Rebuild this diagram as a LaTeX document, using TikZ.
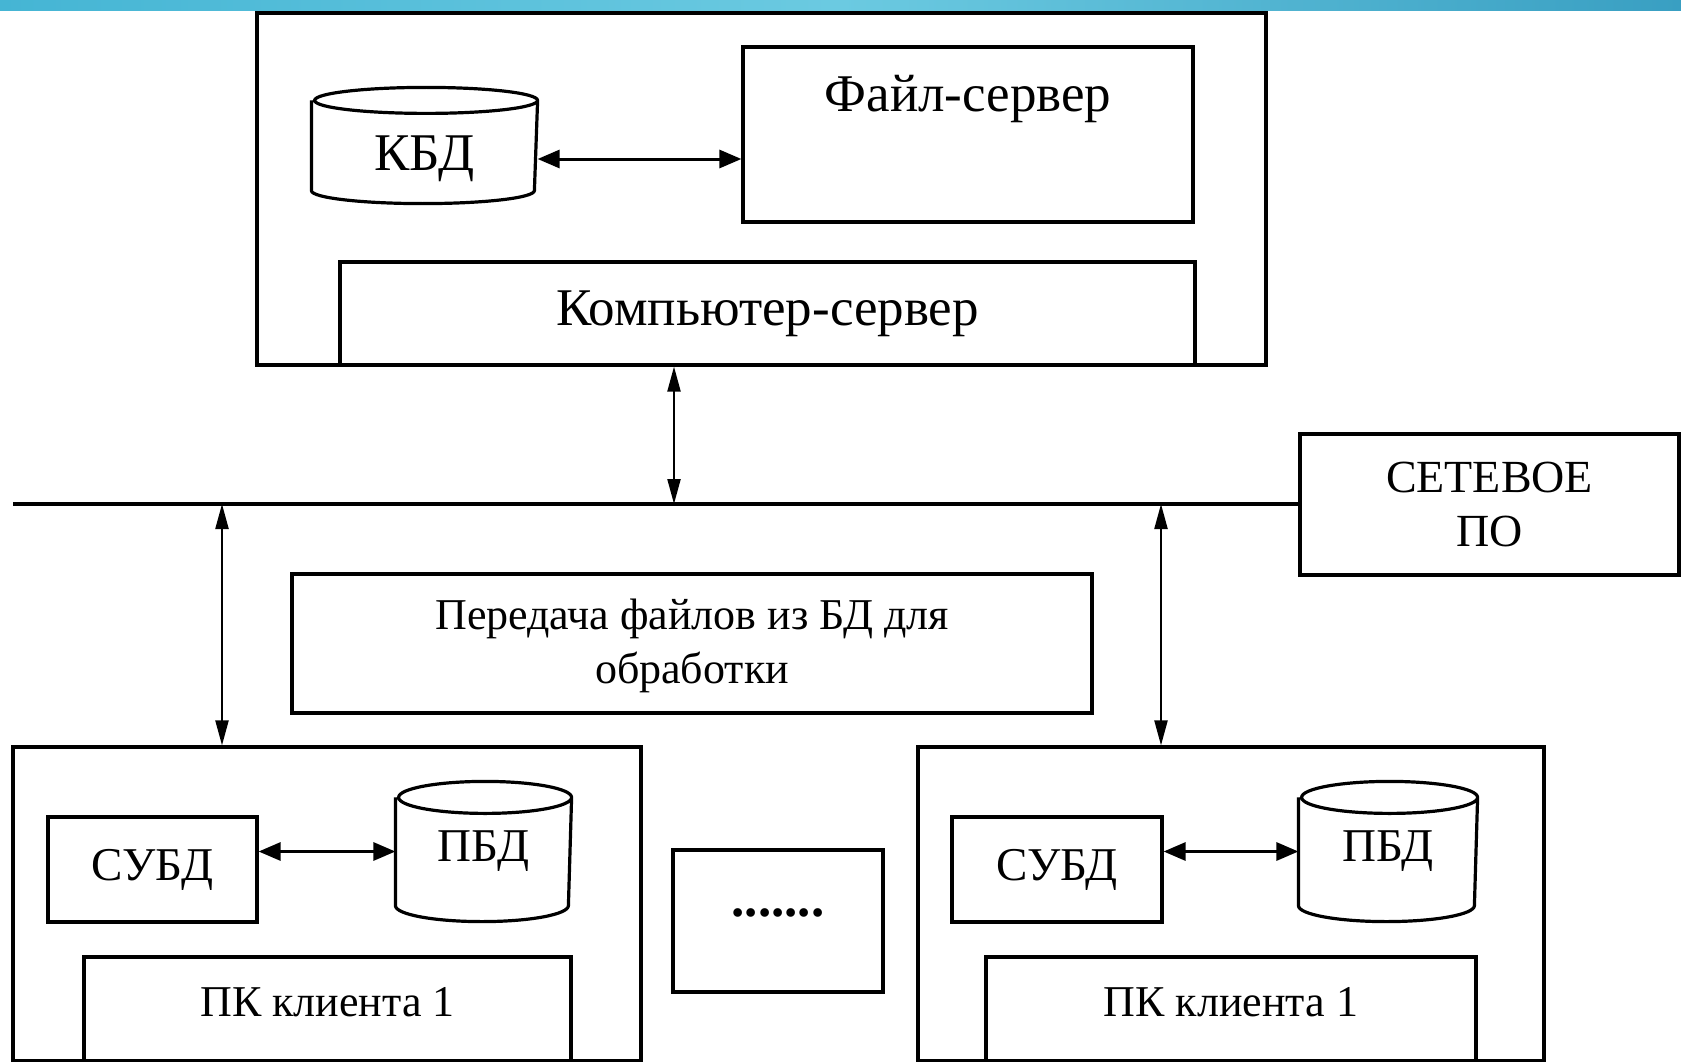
\documentclass[tikz,border=0pt]{standalone}
\usepackage{fontspec}
\setmainfont{Liberation Serif}
\usetikzlibrary{arrows.meta}
\definecolor{stripL}{HTML}{45B5D4}
\definecolor{stripM}{HTML}{6BCAE1}
\definecolor{stripR}{HTML}{399FC2}

\begin{document}
\begin{tikzpicture}[x=1pt,y=1pt,
  box/.style={draw, line width=3.2pt, inner sep=0pt},
  big/.style={inner sep=0pt, font=\fontsize{53}{60}\selectfont},
  mid/.style={inner sep=0pt, font=\fontsize{47}{54}\selectfont},
  small/.style={inner sep=0pt, align=center, font=\fontsize{44}{54}\selectfont},
  biarrow/.style={line width=3pt, {Triangle[length=22pt,width=18pt]}-{Triangle[length=22pt,width=18pt]}},
  vbiarrow/.style={line width=2.2pt, {Triangle[length=25pt,width=13pt]}-{Triangle[length=25pt,width=13pt]}},
  netline/.style={line width=3.2pt},
]
\useasboundingbox (0,0) rectangle (1681,-1062);

% title strip
\shade[left color=stripL, right color=stripR, middle color=stripM]
  (0,0) rectangle (1681,-11);

% cylinder outline drawn round an invisible node
\newcommand\drumshape[3]{% node, width, ellipse radius
  \draw[line width=3.2pt]
    ([yshift=-#3pt]#1.north west) -- ([yshift=#3pt]#1.south west)
    arc[start angle=180, end angle=360, x radius=#2pt/2, y radius=#3pt]
    -- ([yshift=-#3pt]#1.north east)
    arc[start angle=0, end angle=360, x radius=#2pt/2, y radius=#3pt];}

% ---- server ----
\node[box, minimum width=1009pt, minimum height=352pt] (srv) at (761.5,-189) {};
\node[box, minimum width=450pt, minimum height=175pt] (fs) at (968,-134.5) {};
\node[big] (fslbl) at (968,-99) {Файл-сервер};
\node[box, minimum width=855pt, minimum height=103pt] (comp) at (767.5,-313.5) {};
\node[big] (complbl) at (comp) {Компьютер-сервер};
\node[box, draw=none, minimum width=223pt, minimum height=113pt] (kbd) at (424.5,-145.5) {};
\drumshape{kbd}{223}{13}
\node[big] (kbdlbl) at (424.5,-159) {КБД};
\draw[biarrow] (kbd.east |- kbdlbl) -- (fs.west |- kbdlbl);

% ---- network ----
\node[box, minimum width=379pt, minimum height=141pt] (net) at (1489.5,-504.5) {};
\node[small, font=\fontsize{46}{54}\selectfont] (netlbl) at (net) {СЕТЕВОЕ\\ПО};
\coordinate (busL) at (13,-504);
\draw[netline] (busL) -- (busL -| net.west);
\coordinate (a1) at (674,-504);
\coordinate (a2) at (222,-504);
\coordinate (a3) at (1161,-504);
\draw[vbiarrow] (a1 |- srv.south) -- (a1);

% ---- transfer label ----
\node[box, minimum width=800pt, minimum height=139pt] (xfer) at (692,-643.5) {};
\node[small] (xferlbl) at (692,-646) {Передача файлов из БД для\\обработки};

% ---- client 1 ----
\node[box, minimum width=628pt, minimum height=314pt] (cl1) at (327,-904) {};
\node[box, minimum width=209pt, minimum height=105pt] (dbms1) at (152.5,-869.5) {};
\node[mid] at (dbms1) {СУБД};
\node[box, draw=none, minimum width=173pt, minimum height=137pt] (pbd1) at (483.5,-851.5) {};
\drumshape{pbd1}{173}{16}
\node[mid] at (pbd1) {ПБД};
\node[box, minimum width=487pt, minimum height=104pt] (pc1) at (327.5,-1009) {};
\node[small] at (327.5,-1002) {ПК клиента 1};
\draw[biarrow] (dbms1.east |- pbd1) -- (pbd1.west);
\draw[vbiarrow] (a2) -- (a2 |- cl1.north);

% ---- ellipsis ----
\node[box, minimum width=210pt, minimum height=142pt] (more) at (778,-921) {};
\node[big, anchor=base] at (778,-916) {\textbf{.......}};

% ---- client 2 ----
\node[box, minimum width=626pt, minimum height=314pt] (cl2) at (1231,-904) {};
\node[box, minimum width=210pt, minimum height=105pt] (dbms2) at (1057,-869.5) {};
\node[mid] at (dbms2) {СУБД};
\node[box, draw=none, minimum width=176pt, minimum height=137pt] (pbd2) at (1388,-851.5) {};
\drumshape{pbd2}{176}{16}
\node[mid] at (pbd2) {ПБД};
\node[box, minimum width=490pt, minimum height=104pt] (pc2) at (1231,-1009) {};
\node[small] at (1231,-1002) {ПК клиента 1};
\draw[biarrow] (dbms2.east |- pbd2) -- (pbd2.west);
\draw[vbiarrow] (a3) -- (a3 |- cl2.north);
\end{tikzpicture}
\end{document}
